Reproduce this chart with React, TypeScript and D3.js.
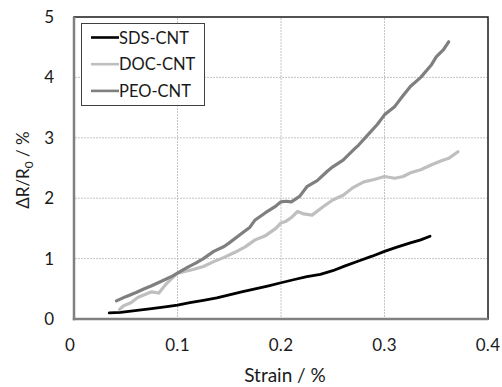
import React, { useEffect, useRef } from 'react'
import * as d3 from 'd3'

// strain (%) and ΔR/R0 (%)
const sdsStrain = [0.034, 0.045, 0.055, 0.065, 0.075, 0.088, 0.1, 0.112, 0.125, 0.138, 0.15, 0.162, 0.175, 0.188, 0.2, 0.212, 0.225, 0.238, 0.25, 0.262, 0.275, 0.288, 0.3, 0.312, 0.325, 0.335, 0.344]
const sdsValue = [0.1, 0.11, 0.13, 0.15, 0.17, 0.2, 0.23, 0.27, 0.31, 0.35, 0.4, 0.45, 0.5, 0.55, 0.6, 0.65, 0.7, 0.74, 0.8, 0.88, 0.96, 1.04, 1.12, 1.19, 1.26, 1.31, 1.37]

const docStrain = [0.044, 0.048, 0.055, 0.062, 0.068, 0.075, 0.082, 0.088, 0.095, 0.1, 0.108, 0.115, 0.125, 0.135, 0.145, 0.155, 0.165, 0.175, 0.185, 0.195, 0.2, 0.205, 0.21, 0.216, 0.222, 0.23, 0.24, 0.25, 0.26, 0.27, 0.28, 0.29, 0.3, 0.31, 0.318, 0.325, 0.335, 0.345, 0.355, 0.362, 0.371]
const docValue = [0.16, 0.22, 0.27, 0.36, 0.4, 0.45, 0.43, 0.56, 0.68, 0.76, 0.79, 0.82, 0.87, 0.95, 1.02, 1.1, 1.19, 1.31, 1.38, 1.5, 1.59, 1.62, 1.68, 1.78, 1.74, 1.72, 1.85, 1.97, 2.05, 2.18, 2.27, 2.31, 2.36, 2.33, 2.36, 2.42, 2.47, 2.55, 2.62, 2.66, 2.77]

const peoStrain = [0.041, 0.05, 0.06, 0.068, 0.075, 0.085, 0.095, 0.1, 0.11, 0.118, 0.125, 0.135, 0.145, 0.15, 0.16, 0.17, 0.175, 0.185, 0.195, 0.2, 0.205, 0.21, 0.218, 0.225, 0.235, 0.245, 0.25, 0.26, 0.27, 0.275, 0.285, 0.293, 0.3, 0.31, 0.318, 0.325, 0.335, 0.345, 0.35, 0.357, 0.362]
const peoValue = [0.3, 0.37, 0.44, 0.5, 0.55, 0.63, 0.71, 0.76, 0.86, 0.93, 1.0, 1.12, 1.2, 1.26, 1.39, 1.52, 1.64, 1.76, 1.87, 1.94, 1.95, 1.94, 2.03, 2.19, 2.29, 2.45, 2.52, 2.63, 2.8, 2.88, 3.07, 3.22, 3.38, 3.52, 3.7, 3.85, 4.0, 4.2, 4.34, 4.46, 4.59]

const xTicks = [0, 0.1, 0.2, 0.3, 0.4]
const yTicks = [0, 1, 2, 3, 4, 5]

const seriesNames = ['SDS-CNT', 'DOC-CNT', 'PEO-CNT']
const seriesColors = ['#000000', '#bfbfbf', '#7f7f7f']

const FONT = 'Lato, "Open Sans", sans-serif'

function App() {
  const svgRef = useRef<SVGSVGElement>(null)
  const width = 502
  const height = 387

  useEffect(() => {
    const svg = d3.select(svgRef.current)
    svg.selectAll('*').remove()

    const left = 74, right = 488, top = 17, bottom = 319

    const x = d3.scaleLinear().domain([0, 0.4]).range([left, right])
    const y = d3.scaleLinear().domain([0, 5]).range([bottom, top])

    // plot area border
    svg.append('rect')
      .attr('x', left).attr('y', top)
      .attr('width', right - left).attr('height', bottom - top)
      .attr('fill', 'white')
      .attr('stroke', '#1a1a1a')
      .attr('stroke-width', 1.5)

    // gridlines
    const grid = svg.append('g')
      .attr('stroke', '#b5b5b5')
      .attr('stroke-width', 0.8)
      .attr('stroke-dasharray', '2,1')
    grid.selectAll('.gx')
      .data(xTicks.slice(1, -1))
      .enter().append('line')
      .attr('x1', d => x(d)).attr('x2', d => x(d))
      .attr('y1', top + 1).attr('y2', bottom - 1)
    grid.selectAll('.gy')
      .data(yTicks.slice(1, -1))
      .enter().append('line')
      .attr('y1', d => y(d)).attr('y2', d => y(d))
      .attr('x1', left + 1).attr('x2', right - 1)

    // axis lines
    svg.append('line')
      .attr('x1', left).attr('x2', left)
      .attr('y1', top).attr('y2', bottom + 1.2)
      .attr('stroke', '#808080').attr('stroke-width', 2.5)
    svg.append('line')
      .attr('x1', left - 1.2).attr('x2', right)
      .attr('y1', bottom).attr('y2', bottom)
      .attr('stroke', '#808080').attr('stroke-width', 2.5)

    // tick labels
    svg.append('g').selectAll('text')
      .data(xTicks)
      .enter().append('text')
      .attr('x', d => x(d) - (d === 0 ? 4 : 0))
      .attr('y', 351)
      .attr('text-anchor', 'middle')
      .style('font-family', FONT)
      .style('font-size', '17px')
      .style('letter-spacing', '0.3px')
      .style('fill', '#1a1a1a')
      .text(d => (d === 0 ? '0' : d3.format('.1f')(d)))

    svg.append('g').selectAll('text')
      .data(yTicks)
      .enter().append('text')
      .attr('x', 54)
      .attr('y', d => y(d) + 6)
      .attr('text-anchor', 'end')
      .style('font-family', FONT)
      .style('font-size', '17px')
      .style('fill', '#1a1a1a')
      .text(d => d)

    // axis titles
    svg.append('text')
      .attr('x', 285)
      .attr('y', 382)
      .attr('text-anchor', 'middle')
      .style('font-family', FONT)
      .style('font-size', '19px')
      .style('fill', '#1a1a1a')
      .text('Strain / %')

    const yTitle = svg.append('text')
      .attr('transform', 'translate(29,170) rotate(-90)')
      .attr('text-anchor', 'middle')
      .style('font-family', FONT)
      .style('font-size', '17px')
      .style('fill', '#1a1a1a')
    yTitle.append('tspan').text('ΔR/R')
    yTitle.append('tspan').attr('dy', 4).style('font-size', '12px').text('0')
    yTitle.append('tspan').attr('dy', -4).text(' / %')

    // curves
    const line = d3.line<[number, number]>()
      .x(d => x(d[0]))
      .y(d => y(d[1]))
    const curves = [
      { strain: sdsStrain, value: sdsValue, width: 2.8 },
      { strain: docStrain, value: docValue, width: 3.2 },
      { strain: peoStrain, value: peoValue, width: 3.2 },
    ]
    curves.forEach((c, i) => {
      svg.append('path')
        .datum(c.strain.map((s, j) => [s, c.value[j]] as [number, number]))
        .attr('d', line)
        .attr('fill', 'none')
        .attr('stroke', seriesColors[i])
        .attr('stroke-width', c.width)
        .attr('stroke-linejoin', 'round')
        .attr('stroke-linecap', 'round')
    })

    // legend
    const legend = svg.append('g')
    legend.append('rect')
      .attr('x', 81.5).attr('y', 23.5)
      .attr('width', 123).attr('height', 82)
      .attr('fill', 'white')
      .attr('stroke', '#404040')
      .attr('stroke-width', 1)
    const items = legend.selectAll('.item')
      .data(seriesNames)
      .enter().append('g')
      .attr('transform', (d, i) => `translate(0, ${37.5 + i * 26.7})`)
    items.append('line')
      .attr('x1', 91).attr('x2', 119)
      .attr('y1', 0).attr('y2', 0)
      .attr('stroke', (d, i) => seriesColors[i])
      .attr('stroke-width', 2.6)
    items.append('text')
      .attr('x', 119)
      .attr('y', 6)
      .style('font-family', FONT)
      .style('font-size', '16.5px')
      .style('fill', '#1a1a1a')
      .text(d => d)
  }, [])

  return (
    <svg
      ref={svgRef}
      width={width}
      height={height}
      style={{ position: 'absolute', left: 0, top: 0, background: 'white' }}
    />
  )
}

export default App
